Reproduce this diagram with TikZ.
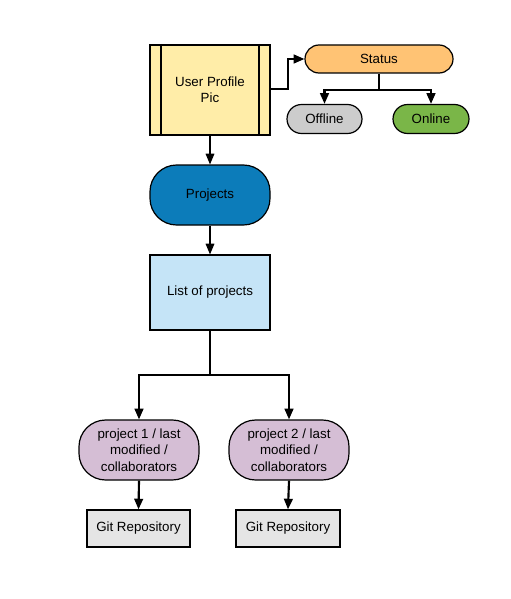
\documentclass[tikz,border=0pt]{standalone}
\usepackage{fontspec}
\setmainfont{Liberation Sans}
\usetikzlibrary{arrows.meta,calc}
\definecolor{cuser}{HTML}{FFEDA8}
\definecolor{cstatus}{HTML}{FFC374}
\definecolor{coff}{HTML}{CCCCCC}
\definecolor{con}{HTML}{7AB648}
\definecolor{cproj}{HTML}{0C7CBA}
\definecolor{clist}{HTML}{C5E4F7}
\definecolor{cpur}{HTML}{D5BED5}
\definecolor{cgit}{HTML}{E5E5E5}
\tikzset{
  base/.style={draw=black, line width=0.9pt, align=center, font=\fontsize{10}{12.2}\selectfont, inner sep=0pt},
  stad/.style={base, rounded corners=#1},
  conn/.style={line width=1.6pt, -{Triangle[length=8pt,width=6.5pt]}},
  thinconn/.style={line width=0.8pt, -{Triangle[length=8pt,width=6.5pt]}},
  thinline/.style={line width=0.8pt},
  thickline/.style={line width=1.6pt}
}
\begin{document}
\begin{tikzpicture}[x=0.75pt,y=-0.75pt]
\useasboundingbox (0,0) rectangle (510,599);
% nodes
\node[base, line width=1.6pt, fill=cuser, minimum width=90pt, minimum height=67.5pt] (user) at (210,90) {User Profile\\Pic};
\draw[line width=0.9pt] ($(user.north west)+(12,0)$) -- ($(user.south west)+(12,0)$);
\draw[line width=0.9pt] ($(user.north east)+(-12,0)$) -- ($(user.south east)+(-12,0)$);
\node[stad=10.5pt, fill=cstatus, minimum width=111pt, minimum height=21pt] (status) at (379,59) {Status};
\node[stad=10.9pt, fill=coff, minimum width=56.25pt, minimum height=21.75pt] (off) at (324.5,119) {Offline};
\node[stad=10.9pt, fill=con, minimum width=57pt, minimum height=21.75pt] (on) at (431,119) {Online};
\node[stad=20pt, fill=cproj, minimum width=90pt, minimum height=45pt] (proj) at (210,195) {Projects};
\node[base, fill=clist, minimum width=90pt, minimum height=56.25pt] (list) at (210,292.5) {List of projects};
\node[stad=20pt, fill=cpur, minimum width=90pt, minimum height=45pt] (p1) at (139,450) {project 1 / last\\modified /\\collaborators};
\node[stad=20pt, fill=cpur, minimum width=90pt, minimum height=45pt] (p2) at (289,450) {project 2 / last\\modified /\\collaborators};
\node[base, fill=cgit, minimum width=77.25pt, minimum height=27.75pt] (g1) at (138.5,528.5) {Git Repository};
\node[base, fill=cgit, minimum width=78pt, minimum height=27.75pt] (g2) at (288,528.5) {Git Repository};
% connectors
\coordinate (ue) at ($(user.east)+(0,-1)$);
\draw[conn] (ue) -- ++(17,0) |- (status.west);
\coordinate (sb) at ($(status.south)+(0,16)$);
\draw[thickline] (status.south) -- (sb);
\draw[conn] (sb) -| (off.north);
\draw[conn] (sb) -| (on.north);
\draw[thinconn] (user.south) -- (proj.north);
\draw[thinconn] (proj.south) -- (list.north);
\coordinate (lb) at (210,375);
\draw[thinline] (list.south) -- (lb);
\draw[conn] (lb) -| (p1.north);
\draw[conn] (lb) -| (p2.north);
\draw[conn] (p1.south) -- (g1.north);
\draw[conn] (p2.south) -- (g2.north);
\end{tikzpicture}
\end{document}
